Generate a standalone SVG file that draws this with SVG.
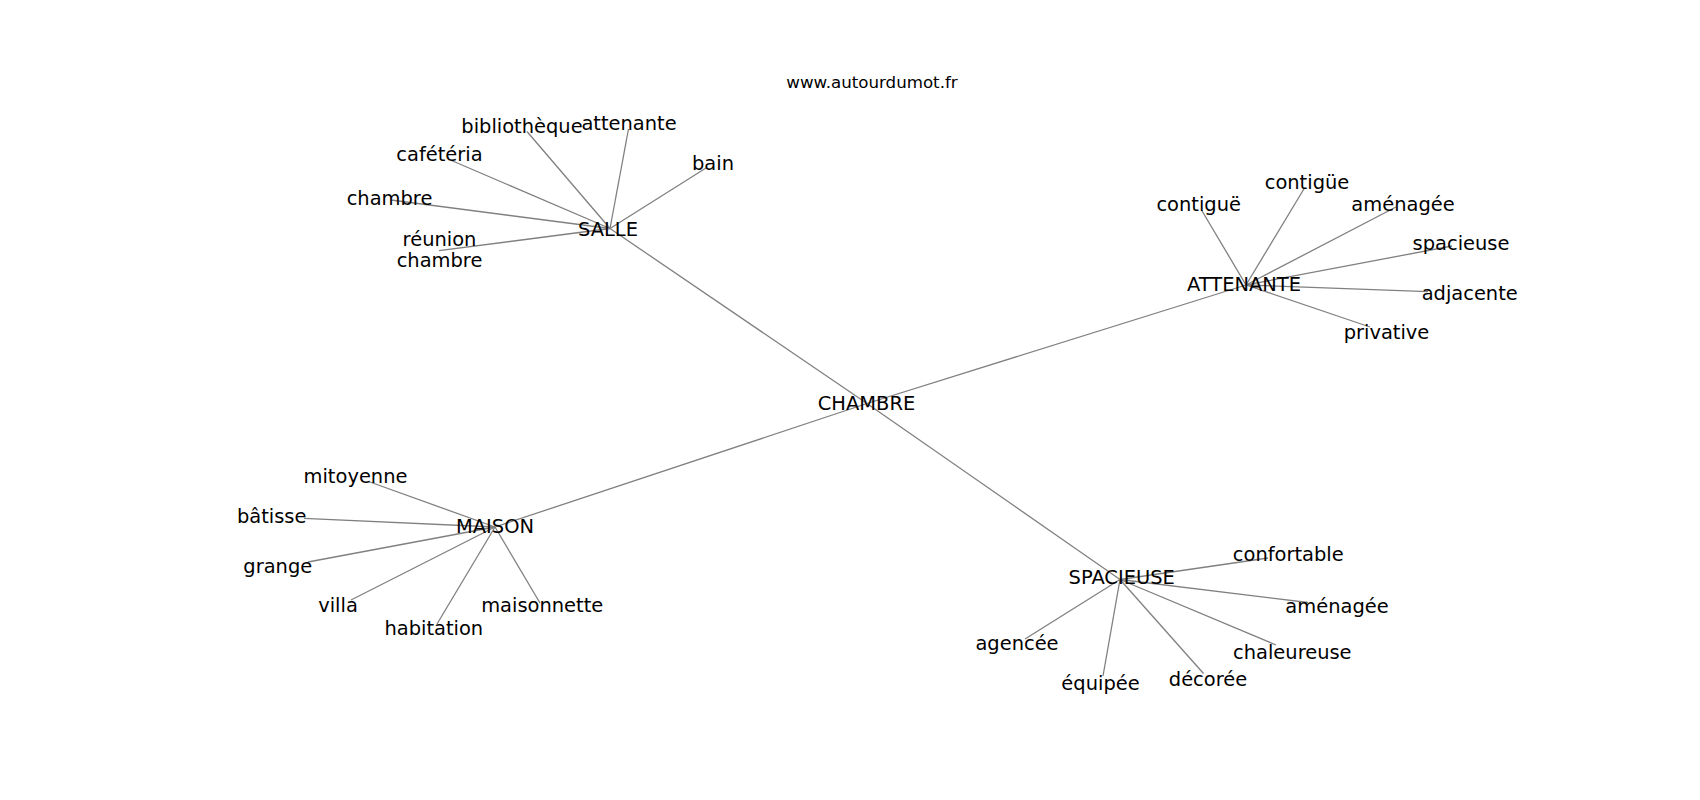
<svg xmlns="http://www.w3.org/2000/svg" width="1700" height="800" viewBox="0 0 1700 800">
<style>
.e{stroke:#808080;stroke-width:1.3;fill:none}
.t{font-family:"DejaVu Sans","Liberation Sans",sans-serif;font-size:19.44px;fill:#000;text-anchor:middle}
.ti{font-family:"DejaVu Sans","Liberation Sans",sans-serif;font-size:16.67px;fill:#000;text-anchor:middle}
</style>
<rect width="1700" height="800" fill="#fff"/>
<text class="ti" x="872" y="88">www.autourdumot.fr</text>
<g id="edges">
<line class="e" x1="867" y1="403.5" x2="610" y2="228.5"/>
<line class="e" x1="867" y1="403.5" x2="1246" y2="285"/>
<line class="e" x1="867" y1="403.5" x2="495" y2="527"/>
<line class="e" x1="867" y1="403.5" x2="1120" y2="579.5"/>
<line class="e" x1="610" y1="228.5" x2="527" y2="131.5"/>
<line class="e" x1="610" y1="228.5" x2="628.5" y2="129"/>
<line class="e" x1="610" y1="228.5" x2="451.5" y2="160.5"/>
<line class="e" x1="610" y1="228.5" x2="706" y2="168"/>
<line class="e" x1="610" y1="228.5" x2="391" y2="200"/>
<line class="e" x1="610" y1="228.5" x2="439" y2="250.7"/>
<line class="e" x1="1246" y1="285" x2="1201.5" y2="210"/>
<line class="e" x1="1246" y1="285" x2="1304.5" y2="188"/>
<line class="e" x1="1246" y1="285" x2="1396" y2="207"/>
<line class="e" x1="1246" y1="285" x2="1452" y2="246"/>
<line class="e" x1="1246" y1="285" x2="1428" y2="291.7"/>
<line class="e" x1="1246" y1="285" x2="1370" y2="327"/>
<line class="e" x1="495" y1="527" x2="368.5" y2="481.5"/>
<line class="e" x1="495" y1="527" x2="304" y2="518.3"/>
<line class="e" x1="495" y1="527" x2="308" y2="562"/>
<line class="e" x1="495" y1="527" x2="351" y2="600"/>
<line class="e" x1="495" y1="527" x2="437" y2="624"/>
<line class="e" x1="495" y1="527" x2="540" y2="603"/>
<line class="e" x1="1120" y1="579.5" x2="1268" y2="558"/>
<line class="e" x1="1120" y1="579.5" x2="1308" y2="602.5"/>
<line class="e" x1="1120" y1="579.5" x2="1276" y2="645"/>
<line class="e" x1="1120" y1="579.5" x2="1203.5" y2="673.5"/>
<line class="e" x1="1120" y1="579.5" x2="1103" y2="676"/>
<line class="e" x1="1120" y1="579.5" x2="1025" y2="639"/>
</g>
<g id="n-chambre-hub"><text class="t" x="866.5" y="409.5">CHAMBRE</text></g>
<g id="n-salle"><text class="t" x="608" y="235.5">SALLE</text></g>
<g id="n-attenante-hub"><text class="t" x="1244" y="290.5">ATTENANTE</text></g>
<g id="n-maison"><text class="t" x="495" y="532.7">MAISON</text></g>
<g id="n-spacieuse-hub"><text class="t" x="1121.7" y="584.3">SPACIEUSE</text></g>
<g id="n-bibliotheque"><text class="t" x="522" y="133.3">bibliothèque</text></g>
<g id="n-attenante"><text class="t" x="629" y="130">attenante</text></g>
<g id="n-cafeteria"><text class="t" x="439.5" y="160.7">cafétéria</text></g>
<g id="n-bain"><text class="t" x="713" y="169.5">bain</text></g>
<g id="n-chambre"><text class="t" x="389.5" y="205">chambre</text></g>
<g id="n-reunion-chambre"><text class="t" x="439.5" y="245.7">réunion</text><text class="t" x="439.5" y="266.7">chambre</text></g>
<g id="n-contigue1"><text class="t" x="1198.7" y="211">contiguë</text></g>
<g id="n-contigue2"><text class="t" x="1307" y="188.5">contigüe</text></g>
<g id="n-amenagee1"><text class="t" x="1403" y="210.5">aménagée</text></g>
<g id="n-spacieuse"><text class="t" x="1461" y="250">spacieuse</text></g>
<g id="n-adjacente"><text class="t" x="1469.7" y="299.5">adjacente</text></g>
<g id="n-privative"><text class="t" x="1386.5" y="338.5">privative</text></g>
<g id="n-mitoyenne"><text class="t" x="355.5" y="483">mitoyenne</text></g>
<g id="n-batisse"><text class="t" x="271.7" y="523">bâtisse</text></g>
<g id="n-grange"><text class="t" x="277.8" y="572.5">grange</text></g>
<g id="n-villa"><text class="t" x="338" y="612">villa</text></g>
<g id="n-habitation"><text class="t" x="433.8" y="635">habitation</text></g>
<g id="n-maisonnette"><text class="t" x="542.2" y="612">maisonnette</text></g>
<g id="n-confortable"><text class="t" x="1288.3" y="561">confortable</text></g>
<g id="n-amenagee2"><text class="t" x="1337" y="613">aménagée</text></g>
<g id="n-chaleureuse"><text class="t" x="1292.3" y="658.5">chaleureuse</text></g>
<g id="n-decoree"><text class="t" x="1208" y="685.5">décorée</text></g>
<g id="n-equipee"><text class="t" x="1100.5" y="690">équipée</text></g>
<g id="n-agencee"><text class="t" x="1017" y="650">agencée</text></g>
</svg>
